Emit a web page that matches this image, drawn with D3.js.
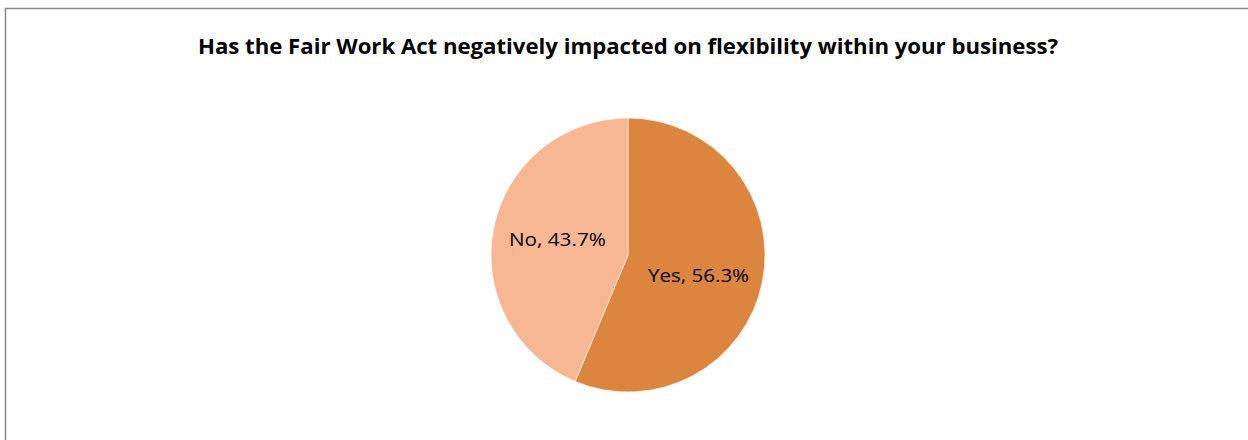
<!DOCTYPE html>
<html>
<head>
<meta charset="utf-8">
<script src="https://cdn.jsdelivr.net/npm/d3@7"></script>
<style>
  html, body { margin: 0; padding: 0; background: #fff; }
  svg { display: block; }
</style>
</head>
<body>
<script>
const categories = ["Yes", "No"];
const values = [56.3, 43.7];
const colors = ["#DC853F", "#F8B793"];
const title = "Has the Fair Work Act negatively impacted on flexibility within your business?";

const W = 1248, H = 440;
const svg = d3.select("body").append("svg").attr("width", W).attr("height", H);

svg.append("rect")
  .attr("x", 5.5).attr("y", 8.5).attr("width", W + 10).attr("height", H + 10)
  .attr("fill", "#fff").attr("stroke", "#888").attr("stroke-width", 1.5);

svg.append("text")
  .attr("x", 628).attr("y", 54)
  .attr("text-anchor", "middle")
  .attr("font-family", "'Open Sans', Lato, sans-serif")
  .attr("font-weight", "bold")
  .attr("font-size", 20.5)
  .attr("fill", "#000")
  .attr("textLength", 860)
  .attr("lengthAdjust", "spacingAndGlyphs")
  .text(title);

const cx = 628, cy = 255, R = 137;
const data = categories.map((c, i) => ({ cat: c, value: values[i], color: colors[i] }));
const pie = d3.pie().sort(null).value(d => d.value);
const arcs = pie(data);
const arc = d3.arc().innerRadius(0).outerRadius(R);
const labelArc = d3.arc().innerRadius(72).outerRadius(72);

const g = svg.append("g").attr("transform", `translate(${cx},${cy})`);
g.selectAll("path").data(arcs).join("path")
  .attr("d", arc)
  .attr("fill", d => d.data.color)
  .attr("stroke", "#fff")
  .attr("stroke-width", 0.6);

const labelWidths = { "Yes": 101, "No": 97 };
const labelShift = { "Yes": 6, "No": -1 };
g.selectAll("text.lbl").data(arcs).join("text")
  .attr("class", "lbl")
  .attr("transform", d => { const c = labelArc.centroid(d); return `translate(${c[0]},${c[1] + labelShift[d.data.cat]})`; })
  .attr("text-anchor", "middle")
  .attr("dy", "0.35em")
  .attr("font-family", "'Open Sans', Lato, sans-serif")
  .attr("font-size", 19)
  .attr("fill", "#000")
  .attr("textLength", d => labelWidths[d.data.cat])
  .attr("lengthAdjust", "spacingAndGlyphs")
  .text(d => `${d.data.cat}, ${d.data.value.toFixed(1)}%`);
</script>
</body>
</html>
